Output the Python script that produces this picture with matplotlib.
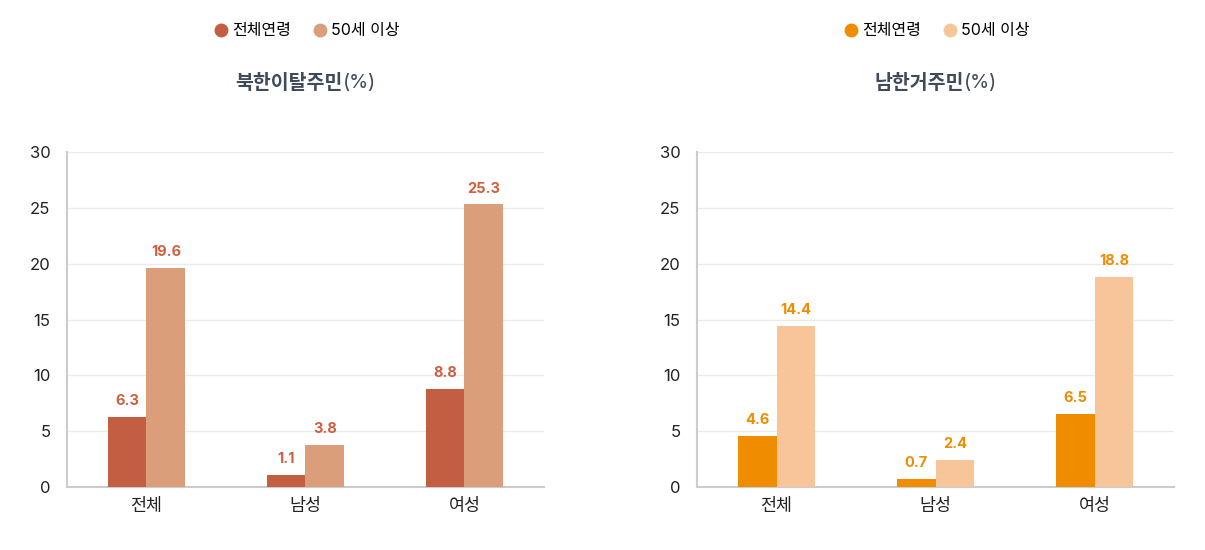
import matplotlib.pyplot as plt
import numpy as np
from matplotlib.lines import Line2D

plt.rcParams["font.family"] = ["Inter", "Noto Sans CJK KR", "DejaVu Sans"]

categories = ["전체", "남성", "여성"]
series_names = ["전체연령", "50세 이상"]

nk_all = [6.3, 1.1, 8.8]
nk_50 = [19.6, 3.8, 25.3]
sk_all = [4.6, 0.7, 6.5]
sk_50 = [14.4, 2.4, 18.8]

yticks = [0, 5, 10, 15, 20, 25, 30]

panels = [
    ("북한이탈주민", nk_all, nk_50, "#C45E42", "#DA9E7A", "#CF5F3E"),
    ("남한거주민", sk_all, sk_50, "#F08C00", "#F8C59B", "#F08C00"),
]

fig = plt.figure(figsize=(12.05, 5.5), dpi=100)
lefts = [67 / 1205, 697 / 1205]
width = 477 / 1205
bottom = 63 / 550
height = 335 / 550

x = np.arange(len(categories))
bw = 0.245

for left, (title, a, b, c_dark, c_light, c_label) in zip(lefts, panels):
    ax = fig.add_axes([left, bottom, width, height])
    ax.bar(x - bw / 2, a, bw, color=c_dark, zorder=3)
    ax.bar(x + bw / 2, b, bw, color=c_light, zorder=3)
    for xi, v in zip(x - bw / 2, a):
        ax.text(xi, v + 0.8, f"{v}", ha="center", va="bottom", color=c_label,
                fontsize=10.5, fontweight="bold")
    for xi, v in zip(x + bw / 2, b):
        ax.text(xi, v + 0.8, f"{v}", ha="center", va="bottom", color=c_label,
                fontsize=10.5, fontweight="bold")

    ax.set_xlim(-0.5, 2.5)
    ax.set_ylim(0, 30)
    ax.set_yticks(yticks)
    ax.set_xticks(x)
    ax.set_xticklabels(categories, fontsize=12.5, color="#222222")
    ax.tick_params(axis="y", labelsize=12, colors="#222222", length=0, pad=12)
    ax.tick_params(axis="x", length=0, pad=8)
    ax.grid(axis="y", color="#EBEBEB", linewidth=1, zorder=0)
    for s in ["top", "right"]:
        ax.spines[s].set_visible(False)
    for s in ["left", "bottom"]:
        ax.spines[s].set_color("#CCCCCC")
        ax.spines[s].set_linewidth(1.5)

    # title: bold name plus lighter "(%)"
    cx = left + width / 2
    ty = 1 - 83 / 550
    t1 = fig.text(cx, ty, title, ha="right", va="center", fontsize=14,
                  fontweight="bold", color="#3F4A5A")
    fig.canvas.draw()
    w1 = t1.get_window_extent().width / fig.bbox.width
    t2 = fig.text(cx, ty, "(%)", ha="left", va="center", fontsize=14,
                  color="#3F4A5A")
    w2 = t2.get_window_extent().width / fig.bbox.width
    shift = (w1 - w2) / 2
    t1.set_x(cx + shift)
    t2.set_x(cx + shift)

    handles = [
        Line2D([], [], marker="o", linestyle="none", markersize=9,
               markerfacecolor=c_dark, markeredgecolor=c_dark),
        Line2D([], [], marker="o", linestyle="none", markersize=9,
               markerfacecolor=c_light, markeredgecolor=c_light),
    ]
    fig.legend(handles, series_names, loc="center", ncol=2,
               bbox_to_anchor=(cx, 1 - 31 / 550), frameon=False, fontsize=11.5,
               handletextpad=0.1, columnspacing=1.2, handlelength=1.2)

fig.savefig("out.png", dpi=100)
